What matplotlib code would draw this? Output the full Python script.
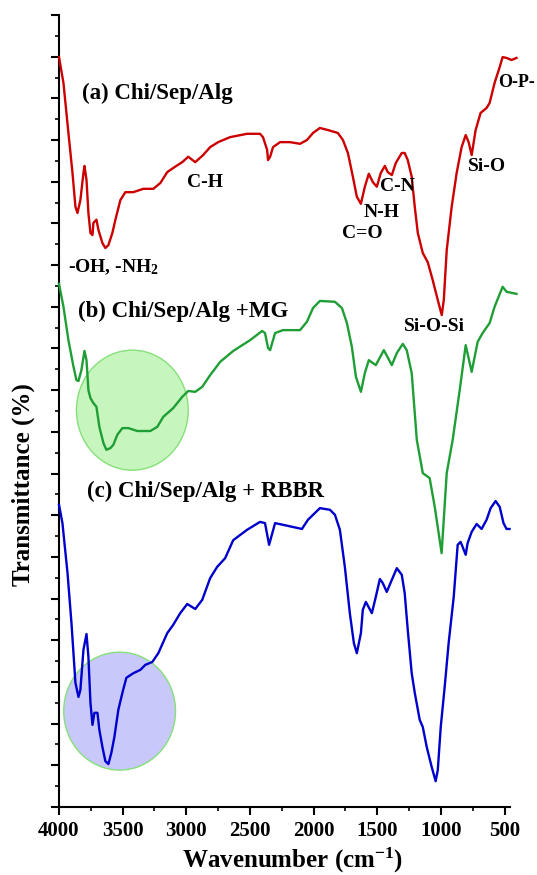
import matplotlib
matplotlib.use("Agg")
import matplotlib.pyplot as plt
from matplotlib.patches import Ellipse
from matplotlib.ticker import MultipleLocator

plt.rcParams['font.family'] = ['Liberation Serif', 'DejaVu Serif']
plt.rcParams['font.weight'] = 'bold'
plt.rcParams['mathtext.fontset'] = 'custom'
plt.rcParams['mathtext.rm'] = 'Liberation Serif:bold'
plt.rcParams['mathtext.bf'] = 'Liberation Serif:bold'
plt.rcParams['mathtext.it'] = 'Liberation Serif:bold:italic'
plt.rcParams['mathtext.default'] = 'rm'

# ---------------- data ----------------
wn_a = [4000, 3965, 3926, 3894, 3871, 3855, 3832, 3808, 3800, 3784, 3769, 3753, 3737, 3730,
        3706, 3690, 3659, 3636, 3612, 3581, 3557, 3518, 3479, 3416, 3338, 3259, 3204, 3150,
        3103, 3032, 2985, 2930, 2868, 2813, 2750, 2656, 2523, 2421, 2398, 2366, 2358, 2342,
        2319, 2264, 2186, 2107, 2053, 2005, 1951, 1888, 1810, 1770, 1731, 1692, 1661, 1629,
        1598, 1567, 1535, 1504, 1473, 1441, 1418, 1386, 1355, 1308, 1285, 1261, 1230, 1206,
        1182, 1143, 1104, 1065, 1025, 994, 978, 955, 916, 877, 838, 806, 783, 759, 728, 689,
        642, 618, 579, 539, 516, 485, 446, 407]
t_a = [17.99, 17.37, 16.17, 15.21, 14.40, 14.25, 14.56, 15.21, 15.38, 15.04, 14.25, 13.77,
       13.72, 14.01, 14.09, 13.84, 13.53, 13.41, 13.48, 13.77, 14.09, 14.56, 14.75, 14.75,
       14.83, 14.83, 14.97, 15.23, 15.33, 15.47, 15.60, 15.47, 15.64, 15.83, 15.95, 16.07,
       16.15, 16.15, 16.07, 15.77, 15.52, 15.60, 15.83, 15.95, 15.95, 15.91, 16.00, 16.17,
       16.29, 16.24, 16.17, 16.00, 15.69, 15.12, 14.64, 14.47, 14.88, 15.19, 14.99, 14.88,
       15.21, 15.38, 15.23, 15.16, 15.45, 15.69, 15.69, 15.52, 15.12, 14.40, 13.77, 13.29,
       13.07, 12.64, 12.16, 11.80, 12.16, 13.36, 14.40, 15.21, 15.83, 16.12, 15.95, 15.64,
       16.24, 16.65, 16.77, 16.89, 17.37, 17.75, 17.99, 17.97, 17.92, 17.97]

wn_b = [4000, 3965, 3926, 3886, 3863, 3847, 3824, 3800, 3784, 3769, 3753, 3730, 3706, 3683,
        3651, 3628, 3596, 3573, 3542, 3502, 3455, 3385, 3283, 3228, 3181, 3103, 3032, 2985,
        2930, 2875, 2813, 2734, 2632, 2499, 2405, 2382, 2358, 2342, 2303, 2241, 2107, 2053,
        2005, 1951, 1833, 1778, 1739, 1700, 1668, 1629, 1598, 1567, 1512, 1449, 1386, 1347,
        1300, 1269, 1230, 1190, 1143, 1089, 1049, 995, 955, 908, 853, 806, 759, 712, 673,
        618, 579, 516, 485, 407]
t_b = [12.55, 12.00, 11.20, 10.56, 10.24, 10.22, 10.48, 10.94, 10.72, 10.00, 9.81, 9.69,
       9.60, 9.12, 8.73, 8.57, 8.61, 8.69, 8.93, 9.09, 9.09, 9.02, 9.02, 9.12, 9.36, 9.57,
       9.84, 9.98, 9.96, 10.08, 10.36, 10.68, 10.94, 11.20, 11.42, 11.37, 11.01, 10.96,
       11.37, 11.44, 11.44, 11.64, 11.97, 12.14, 12.12, 11.97, 11.61, 11.04, 10.32, 9.96,
       10.41, 10.72, 10.60, 10.96, 10.60, 10.89, 11.11, 10.96, 10.41, 8.81, 8.01, 7.89,
       7.20, 6.09, 8.01, 8.81, 10.00, 11.08, 10.44, 11.16, 11.37, 11.61, 12.00, 12.48,
       12.36, 12.31]

wn_c = [4000, 3973, 3933, 3902, 3871, 3847, 3832, 3808, 3784, 3769, 3753, 3737, 3722, 3698,
        3683, 3659, 3636, 3612, 3589, 3565, 3534, 3502, 3471, 3416, 3361, 3322, 3267, 3220,
        3150, 3103, 3048, 2993, 2930, 2875, 2813, 2758, 2695, 2632, 2523, 2421, 2382, 2350,
        2303, 2241, 2092, 2045, 1951, 1872, 1833, 1794, 1755, 1716, 1684, 1661, 1629, 1614,
        1590, 1543, 1512, 1480, 1457, 1426, 1386, 1347, 1308, 1285, 1261, 1230, 1206, 1167,
        1143, 1112, 1073, 1042, 1025, 1002, 971, 940, 900, 869, 846, 830, 806, 791, 759,
        720, 681, 642, 610, 571, 539, 509, 485, 462]
t_c = [7.25, 6.81, 5.61, 4.41, 2.98, 2.64, 2.81, 3.77, 4.15, 3.60, 2.50, 1.97, 2.26, 2.26,
       1.85, 1.44, 1.10, 1.03, 1.30, 1.68, 2.33, 2.74, 3.10, 3.21, 3.29, 3.41, 3.48, 3.69,
       4.17, 4.37, 4.65, 4.87, 4.75, 4.97, 5.49, 5.76, 5.97, 6.40, 6.65, 6.84, 6.81, 6.29,
       6.81, 6.77, 6.67, 6.89, 7.17, 7.13, 7.01, 6.65, 5.76, 4.65, 3.93, 3.69, 4.17, 4.73,
       4.92, 4.65, 5.04, 5.47, 5.37, 5.16, 5.45, 5.73, 5.57, 5.13, 4.25, 3.21, 2.74, 2.09,
       1.92, 1.44, 0.96, 0.62, 0.89, 1.92, 2.88, 3.93, 5.04, 6.29, 6.36, 6.24, 6.05, 6.33,
       6.60, 6.79, 6.67, 6.89, 7.17, 7.34, 7.20, 6.81, 6.67, 6.67]

series_labels = ["(a) Chi/Sep/Alg", "(b) Chi/Sep/Alg +MG", "(c) Chi/Sep/Alg + RBBR"]
band_labels = ["-OH, -NH$_2$", "C-H", "C=O", "N-H", "C-N", "Si-O", "O-P-", "Si-O-Si"]
x_ticks = [4000, 3500, 3000, 2500, 2000, 1500, 1000, 500]

# ---------------- figure ----------------
fig = plt.figure(figsize=(5.37, 8.75), dpi=100)
ax = fig.add_axes([59 / 537, 1 - 807 / 875, (510 - 59) / 537, (807 - 15) / 875])

# highlight circles
ax.add_patch(Ellipse((3424, 9.52), 878, 2.88, facecolor='#c6f5bd', edgecolor='#86e07a',
                     lw=1.0, zorder=1))
ax.add_patch(Ellipse((3524, 2.30), 878, 2.83, facecolor='#c8c8fa', edgecolor='#86e07a',
                     lw=1.0, zorder=1))

ax.plot(wn_a, t_a, color='#cc0000', lw=1.7, clip_on=False, zorder=3)
ax.plot(wn_b, t_b, color='#1f9e35', lw=1.7, clip_on=False, zorder=3)
ax.plot(wn_c, t_c, color='#0000cc', lw=1.7, clip_on=False, zorder=3)

ax.set_xlim(4000, 458)
ax.set_ylim(0, 19)

ax.spines['top'].set_visible(False)
ax.spines['right'].set_visible(False)
for s in ('left', 'bottom'):
    ax.spines[s].set_linewidth(1.5)

ax.set_xticks(x_ticks)
ax.set_xticklabels([str(v) for v in x_ticks])
ax.xaxis.set_minor_locator(MultipleLocator(250))
ax.yaxis.set_major_locator(MultipleLocator(1))
ax.yaxis.set_minor_locator(MultipleLocator(0.5))
ax.set_yticklabels([])
ax.tick_params(axis='both', which='major', direction='out', length=6, width=1.5,
               labelsize=15, pad=4)
ax.tick_params(axis='both', which='minor', direction='out', length=3, width=1.2)
for lab in ax.get_xticklabels():
    lab.set_fontweight('bold')

# series labels
ax.text(3816, 17.13, series_labels[0], fontsize=16.5, fontweight='bold', ha='left', va='center')
ax.text(3847, 11.88, series_labels[1], fontsize=16.5, fontweight='bold', ha='left', va='center')
ax.text(3784, 7.56, series_labels[2], fontsize=16.5, fontweight='bold', ha='left', va='center')

# band labels: (x, y, ha, size)
band_pos = [(3926, 12.96, 'left', 14), (2856, 14.99, 'center', 14), (1614, 13.77, 'center', 14),
            (1465, 14.27, 'center', 14), (1339, 14.88, 'center', 14), (638, 15.36, 'center', 14),
            (549, 17.39, 'left', 13), (1049, 11.52, 'center', 14)]
for lab, (x, y, ha, fs) in zip(band_labels, band_pos):
    ax.text(x, y, lab, fontsize=fs, fontweight='bold', ha=ha, va='center', clip_on=False)

fig.text(23 / 537, 1 - 485 / 875, "Transmittance (%)", rotation=90, fontsize=18,
         fontweight='bold', ha='center', va='center')
fig.text(293 / 537, 1 - 860 / 875, "Wavenumber (cm$^{-1}$)", fontsize=18,
         fontweight='bold', ha='center', va='center')

fig.savefig("out.png", dpi=100)
